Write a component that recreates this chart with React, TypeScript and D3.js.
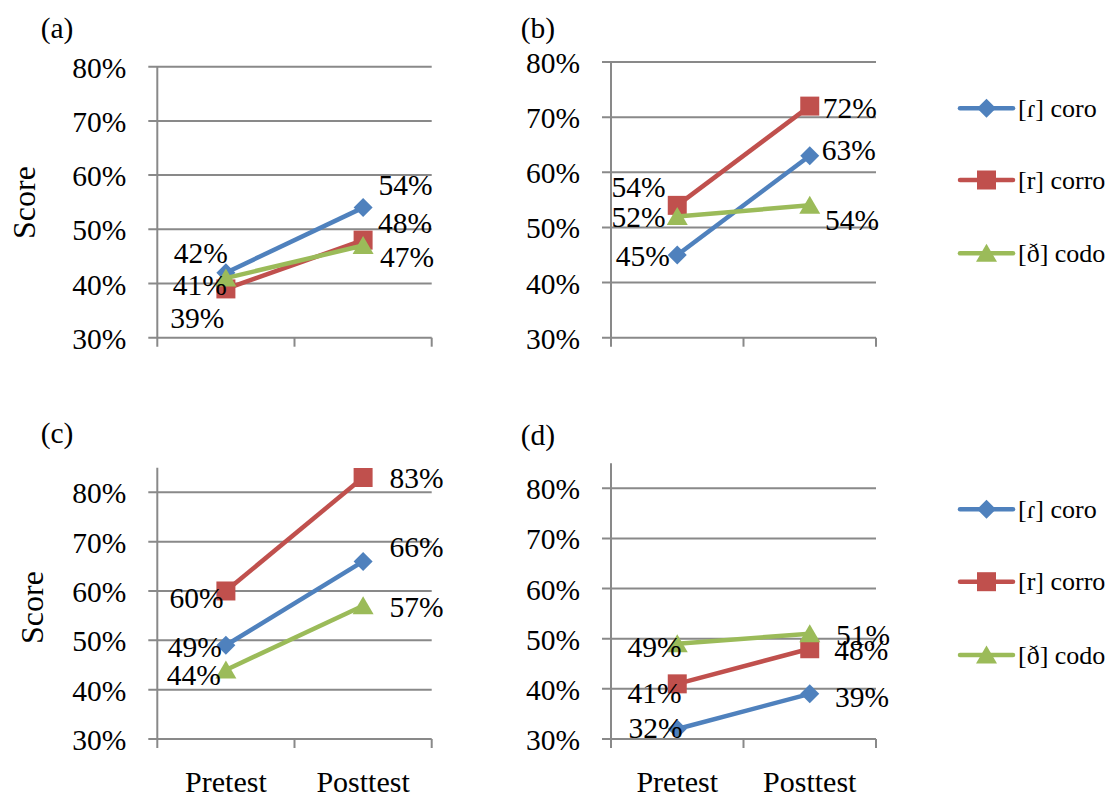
import React from "react";
import * as d3 from "d3";

// ---------- data ----------
const categories = ["Pretest", "Posttest"];
const seriesNames = ["[ɾ] coro", "[r] corro", "[ð] codo"];
const panelNames = ["(a)", "(b)", "(c)", "(d)"];
const yTicks = [0.3, 0.4, 0.5, 0.6, 0.7, 0.8];
const axisMax = [0.8, 0.8, 0.85, 0.85];

// values per panel: [pretest, posttest]
const coroValues = [
  [0.42, 0.54],
  [0.45, 0.63],
  [0.49, 0.66],
  [0.32, 0.39],
];
const corroValues = [
  [0.39, 0.48],
  [0.54, 0.72],
  [0.6, 0.83],
  [0.41, 0.48],
];
const codoValues = [
  [0.41, 0.47],
  [0.52, 0.54],
  [0.44, 0.57],
  [0.49, 0.51],
];
const seriesValues = [coroValues, corroValues, codoValues];

// ---------- style / layout ----------
const colors = ["#4F81BD", "#C0504D", "#9BBB59"];
const FONT = "Liberation Serif, Times New Roman, serif";
const gridColor = "#898989";

type Layout = {
  left: number;
  right: number;
  y30: number;
  y80: number;
  label: [number, number];
  score: [number, number] | null;
  xLabels: boolean;
  legend: number[] | null;
};

const layouts: Layout[] = [
  { left: 157.3, right: 431.7, y30: 337.7, y80: 66.7, label: [40.7, 38], score: [35, 202.5], xLabels: false, legend: null },
  { left: 611, right: 876, y30: 337.7, y80: 62, label: [520.7, 38], score: null, xLabels: false, legend: [108.3, 180, 253.3] },
  { left: 157.3, right: 431.7, y30: 739, y80: 492.3, label: [40.7, 443], score: [43.3, 607.5], xLabels: true, legend: null },
  { left: 611, right: 876, y30: 739, y80: 488.3, label: [520.7, 445], score: null, xLabels: true, legend: [509.3, 581.7, 655] },
];

// label offsets [panel][series] = [[dx,dy] pre (end-anchored), [dx,dy] post (start-anchored)]
const labelOffsets: [number, number][][][] = [
  [
    [[2, -9.4], [15.3, -12.6]],
    [[-1.6, 39.4], [15, -6.8]],
    [[1, 17], [17, 21]],
  ],
  [
    [[-7.3, 10.8], [12, 4.3]],
    [[-11.6, -8.6], [12.9, 12.2]],
    [[-11.6, 10.4], [15.2, 24.7]],
  ],
  [
    [[-4, 11.6], [26.3, -4.6]],
    [[-2.3, 17.4], [26.3, 10.8]],
    [[-5, 15.2], [26.3, 11]],
  ],
  [
    [[5.4, 9.5], [25.2, 13]],
    [[4.4, 19.6], [24.5, 11.4]],
    [[4.4, 13.1], [26.2, 11.4]],
  ],
];

const pct = d3.format(".0%");

function markerPath(s: number): string {
  const p = d3.path();
  if (s === 0) {
    const r = 9.5;
    p.moveTo(0, -r);
    p.lineTo(r, 0);
    p.lineTo(0, r);
    p.lineTo(-r, 0);
    p.closePath();
    return p.toString();
  }
  if (s === 1) {
    return d3.symbol(d3.symbolSquare, 19 * 19)() as string;
  }
  p.moveTo(0, -9.5);
  p.lineTo(10.5, 8.5);
  p.lineTo(-10.5, 8.5);
  p.closePath();
  return p.toString();
}

const txt = (size: number): React.CSSProperties => ({ fontFamily: FONT, fontSize: size });

function Panel({ i }: { i: number }) {
  const L = layouts[i];
  const x = d3.scaleBand<string>().domain(categories).range([L.left, L.right]);
  const y = d3.scaleLinear().domain([0.3, 0.8]).range([L.y30, L.y80]);
  const cx = (j: number) => (x(categories[j]) as number) + x.bandwidth() / 2;
  const line = d3
    .line<number>()
    .x((_, j) => cx(j))
    .y((v) => y(v));
  const tickLen = 9;
  const xTickPositions = categories.map((c) => (x(c) as number) + x.bandwidth());

  return (
    <g>
      <text x={L.label[0]} y={L.label[1]} style={txt(29.5)} fill="#000">
        {panelNames[i]}
      </text>
      {L.score && (
        <text
          transform={`translate(${L.score[0]},${L.score[1]}) rotate(-90)`}
          textAnchor="middle"
          style={txt(32)}
          fill="#000"
        >
          Score
        </text>
      )}
      {/* gridlines */}
      {yTicks.map((t) => (
        <line
          key={t}
          x1={L.left - tickLen}
          x2={L.right}
          y1={y(t)}
          y2={y(t)}
          stroke={gridColor}
          strokeWidth={2}
        />
      ))}
      {/* y axis */}
      <line x1={L.left} x2={L.left} y1={y(axisMax[i])} y2={L.y30 + tickLen} stroke={gridColor} strokeWidth={2} />
      {/* x ticks */}
      {xTickPositions.map((xp, k) => (
        <line key={k} x1={xp} x2={xp} y1={L.y30} y2={L.y30 + tickLen} stroke={gridColor} strokeWidth={2} />
      ))}
      {/* tick labels */}
      {yTicks.map((t) => (
        <text key={t} x={L.left - 31} y={y(t) + 11} textAnchor="end" style={txt(29.5)} fill="#000">
          {pct(t)}
        </text>
      ))}
      {L.xLabels &&
        categories.map((c, j) => (
          <text key={c} x={cx(j)} y={792} textAnchor="middle" style={txt(30)} fill="#000">
            {c}
          </text>
        ))}
      {/* series */}
      {seriesValues.map((sv, s) => (
        <g key={s}>
          <path d={line(sv[i]) as string} fill="none" stroke={colors[s]} strokeWidth={4.5} strokeLinejoin="round" />
          {sv[i].map((v, j) => (
            <path key={j} d={markerPath(s)} transform={`translate(${cx(j)},${y(v)})`} fill={colors[s]} />
          ))}
        </g>
      ))}
      {/* data labels */}
      {seriesValues.map((sv, s) =>
        sv[i].map((v, j) => {
          const off = labelOffsets[i][s][j];
          return (
            <text
              key={`${s}-${j}`}
              x={cx(j) + off[0]}
              y={y(v) + off[1]}
              textAnchor={j === 0 ? "end" : "start"}
              style={txt(29.5)}
              fill="#000"
            >
              {pct(v)}
            </text>
          );
        })
      )}
      {/* legend */}
      {L.legend &&
        seriesNames.map((name, s) => {
          const ly = (L.legend as number[])[s];
          return (
            <g key={name}>
              <line x1={960} x2={1013} y1={ly} y2={ly} stroke={colors[s]} strokeWidth={4.5} strokeLinecap="round" />
              <path d={markerPath(s)} transform={`translate(986.5,${ly})`} fill={colors[s]} />
              <text x={1018} y={ly + 8.6} style={txt(26)} fill="#000">
                {name}
              </text>
            </g>
          );
        })}
    </g>
  );
}

export default function App() {
  return (
    <svg
      width={1115}
      height={798}
      viewBox="0 0 1115 798"
      style={{ position: "absolute", left: 0, top: 0, background: "#fff" }}
    >
      <rect width={1115} height={798} fill="#fff" />
      {[0, 1, 2, 3].map((i) => (
        <Panel key={i} i={i} />
      ))}
    </svg>
  );
}
